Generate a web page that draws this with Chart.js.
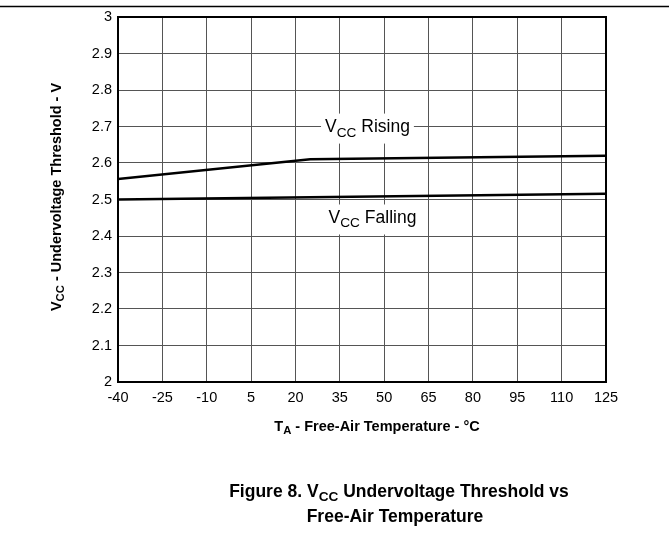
<!DOCTYPE html>
<html>
<head>
<meta charset="utf-8">
<script src="https://cdn.jsdelivr.net/npm/chart.js@4"></script>
<style>
  html, body { margin: 0; padding: 0; background: #fff; }
  #wrap { width: 669px; height: 550px; position: relative; }
</style>
</head>
<body>
<div id="wrap"><canvas id="chart" width="669" height="550"></canvas></div>
<script>
const temps = [-40, 25, 125];
const rising = [2.556, 2.61, 2.62];
const falling = [2.5, 2.506, 2.516];
const xTicks = [-40, -25, -10, 5, 20, 35, 50, 65, 80, 95, 110, 125];
const yTicks = [2, 2.1, 2.2, 2.3, 2.4, 2.5, 2.6, 2.7, 2.8, 2.9, 3];

const FONT = "'Liberation Sans', Arial, sans-serif";

// text with a subscript part: [[text, isSub], ...]
function richWidth(ctx, parts, size, bold) {
  let w = 0;
  parts.forEach(([t, sub]) => {
    ctx.font = (bold ? "bold " : "") + (sub ? size * 0.78 : size) + "px " + FONT;
    w += ctx.measureText(t).width;
  });
  return w;
}
function drawRich(ctx, parts, x, y, size, bold) {
  let cx = x;
  parts.forEach(([t, sub]) => {
    ctx.font = (bold ? "bold " : "") + (sub ? size * 0.78 : size) + "px " + FONT;
    ctx.fillText(t, cx, sub ? y + size * 0.3 : y);
    cx += ctx.measureText(t).width;
  });
}

const extras = {
  id: "extras",
  afterDraw(chart) {
    const ctx = chart.ctx;
    const a = chart.chartArea;
    const sx = chart.scales.x, sy = chart.scales.y;
    ctx.save();
    // frame
    ctx.strokeStyle = "#000";
    ctx.lineWidth = 2;
    ctx.strokeRect(a.left, a.top, a.right - a.left, a.bottom - a.top);
    // top rule
    ctx.lineWidth = 1.5;
    ctx.beginPath();
    ctx.moveTo(0, 6.5);
    ctx.lineTo(669, 6.5);
    ctx.stroke();

    ctx.fillStyle = "#000";
    ctx.textBaseline = "middle";
    // curve labels
    const labels = [
      { parts: [["V", 0], ["CC", 1], [" Rising", 0]], x: 30, y: 2.697 },
      { parts: [["V", 0], ["CC", 1], [" Falling", 0]], x: 31.2, y: 2.448 }
    ];
    labels.forEach(l => {
      const w = richWidth(ctx, l.parts, 17.5, false);
      const px = sx.getPixelForValue(l.x), py = sy.getPixelForValue(l.y);
      ctx.fillStyle = "#fff";
      ctx.fillRect(px - 4, py - 14, w + 8, 30);
      ctx.fillStyle = "#000";
      drawRich(ctx, l.parts, px, py, 17.5, false);
    });

    // x axis title
    const xt = [["T", 0], ["A", 1], [" - Free-Air Temperature - °C", 0]];
    const xw = richWidth(ctx, xt, 14.5, true);
    drawRich(ctx, xt, 377 - xw / 2, 427, 14.5, true);

    // y axis title
    const yt = [["V", 0], ["CC", 1], [" - Undervoltage Threshold - V", 0]];
    const yw = richWidth(ctx, yt, 14.5, true);
    ctx.save();
    ctx.translate(57, 197);
    ctx.rotate(-Math.PI / 2);
    drawRich(ctx, yt, -yw / 2, 0, 14.5, true);
    ctx.restore();

    // caption
    const c1 = [["Figure 8. V", 0], ["CC", 1], [" Undervoltage Threshold vs", 0]];
    const w1 = richWidth(ctx, c1, 17.5, true);
    drawRich(ctx, c1, 399 - w1 / 2, 492, 17.5, true);
    const c2 = [["Free-Air Temperature", 0]];
    const w2 = richWidth(ctx, c2, 17.5, true);
    drawRich(ctx, c2, 395 - w2 / 2, 517, 17.5, true);
    ctx.restore();
  }
};

new Chart(document.getElementById("chart"), {
  type: "line",
  data: {
    datasets: [
      {
        label: "VCC Rising",
        data: temps.map((t, i) => ({ x: t, y: rising[i] })),
        borderColor: "#000",
        borderWidth: 2.5,
        pointRadius: 0,
        tension: 0
      },
      {
        label: "VCC Falling",
        data: temps.map((t, i) => ({ x: t, y: falling[i] })),
        borderColor: "#000",
        borderWidth: 2.5,
        pointRadius: 0,
        tension: 0
      }
    ]
  },
  options: {
    responsive: false,
    animation: false,
    devicePixelRatio: 1,
    layout: { padding: { left: 78, top: 17, right: 63, bottom: 0 } },
    plugins: { legend: { display: false }, tooltip: { enabled: false } },
    scales: {
      x: {
        type: "linear",
        min: -40,
        max: 125,
        afterBuildTicks: s => { s.ticks = xTicks.map(v => ({ value: v })); },
        afterFit: s => { s.height = 168; },
        grid: { color: "#555", lineWidth: 1, drawTicks: false },
        border: { display: false },
        ticks: { color: "#000", padding: 7, maxRotation: 0, autoSkip: false, font: { family: FONT, size: 14.5 } }
      },
      y: {
        min: 2,
        max: 3,
        afterBuildTicks: s => { s.ticks = yTicks.map(v => ({ value: v })); },
        afterFit: s => { s.width = 40; },
        grid: { color: "#555", lineWidth: 1, drawTicks: false },
        border: { display: false },
        ticks: {
          color: "#000",
          padding: 6,
          autoSkip: false,
          font: { family: FONT, size: 14.5 },
          callback: v => String(Math.round(v * 10) / 10)
        }
      }
    }
  },
  plugins: [extras]
});
</script>
</body>
</html>
